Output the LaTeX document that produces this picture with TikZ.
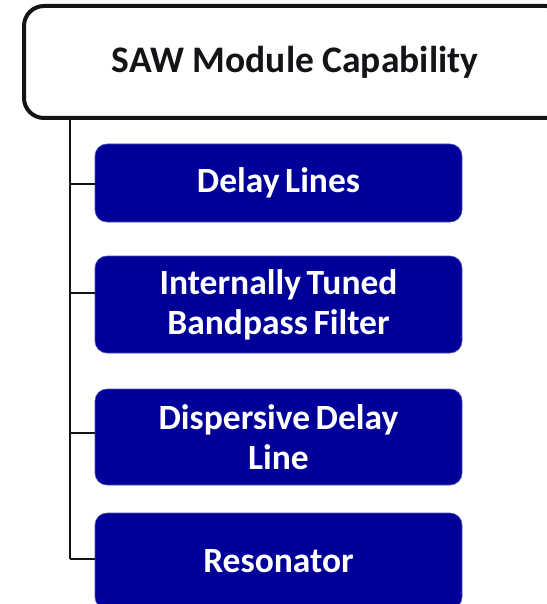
\documentclass[tikz,border=0pt]{standalone}
\usepackage{fontspec}
\setmainfont{Carlito}
\newfontfamily\boxfont[WordSpace=0.7]{Carlito}
\usetikzlibrary{positioning}

\definecolor{sawblue}{RGB}{0,0,153}
\definecolor{sawink}{RGB}{20,20,24}

\tikzset{
  headbox/.style={draw=sawink, line width=4pt, rounded corners=20pt, fill=white,
    minimum width=542pt, minimum height=112pt, font=\fontsize{37.5}{44}\selectfont\bfseries, text=sawink},
  itembox/.style={fill=sawblue, draw=sawblue!70, line width=0.6pt, rounded corners=12pt,
    minimum width=367pt, align=center, text=white,
    font=\boxfont\bfseries\fontsize{35.5}{40}\selectfont},
  spine/.style={line width=1.4pt, sawink},
  tick/.style={line width=2pt, sawink}
}

\begin{document}
\begin{tikzpicture}[x=1pt,y=-1pt]
\useasboundingbox (0,0) rectangle (546,604);

\node[headbox] (head) at (295,62) {SAW Module Capability};

\node[itembox, minimum height=78pt] (delay) at (278.5,183) {Delay Lines};
\node[itembox, minimum height=97pt] (bpf) at (278.5,304.5) {Internally Tuned\\Bandpass Filter};
\node[itembox, minimum height=96pt] (ddl) at (278.5,437) {Dispersive Delay\\Line};
\node[itembox, minimum height=96pt] (reso) at (278.5,561) {Resonator};

% spine and ticks
\coordinate (s1) at (70,184);
\coordinate (s2) at (70,293);
\coordinate (s3) at (70,433);
\coordinate (s4) at (70,559);
\draw[spine] (s4 |- head.south) -- (s4);
\draw[tick] (s1) -- (s1 -| delay.west);
\draw[tick] (s2) -- (s2 -| bpf.west);
\draw[tick] (s3) -- (s3 -| ddl.west);
\draw[tick] (s4) -- (s4 -| reso.west);

\end{tikzpicture}
\end{document}
